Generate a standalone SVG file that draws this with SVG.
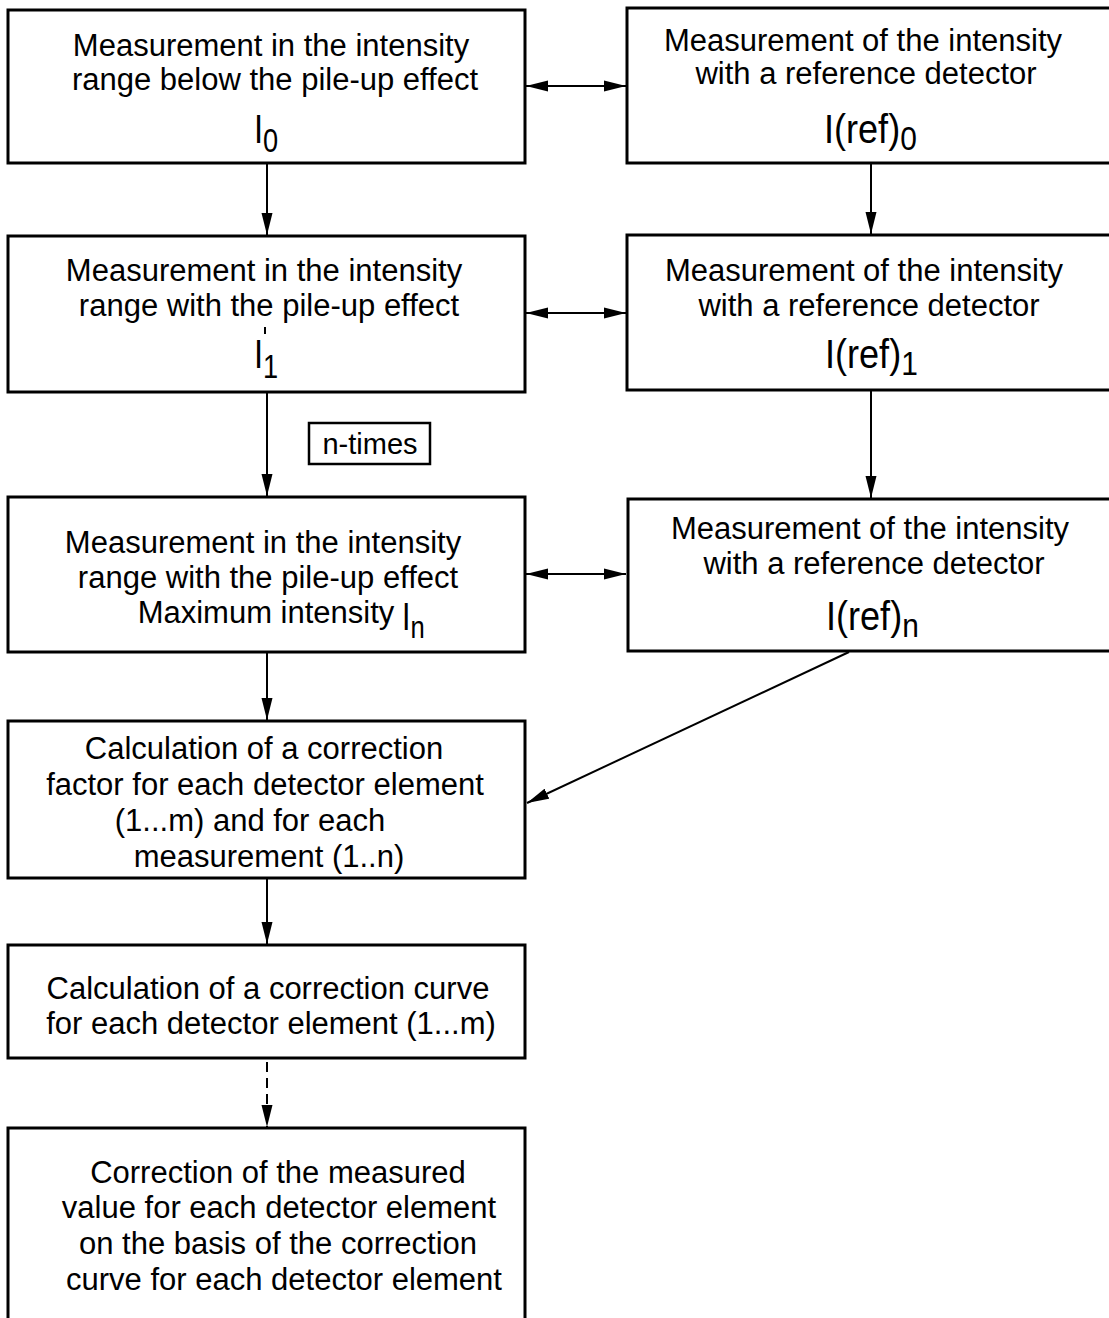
<svg xmlns="http://www.w3.org/2000/svg" width="1109" height="1318" viewBox="0 0 1109 1318">
<defs>
<style>
.box{fill:#fff;stroke:#000;stroke-width:3}
.t{font-family:"Liberation Sans",Arial,sans-serif;font-size:31px;fill:#000;text-anchor:middle}
.sym{font-family:"Liberation Sans",Arial,sans-serif;font-size:41px;fill:#000}
.sub{font-size:34px}
.c{stroke:#000;stroke-width:2;fill:none}
</style>
<marker id="ah" markerUnits="userSpaceOnUse" markerWidth="24" markerHeight="12" refX="22" refY="6" orient="auto-start-reverse">
<path d="M0,0.5 L22,6 L0,11.5 z" fill="#000"/>
</marker>
</defs>
<rect width="1109" height="1318" fill="#fff"/>

<g id="connectors">
<line class="c" x1="267" y1="164" x2="267" y2="235" marker-end="url(#ah)"/>
<line class="c" x1="871" y1="164" x2="871" y2="234" marker-end="url(#ah)"/>
<line class="c" x1="267" y1="393" x2="267" y2="496" marker-end="url(#ah)"/>
<line class="c" x1="871" y1="391" x2="871" y2="498" marker-end="url(#ah)"/>
<line class="c" x1="267" y1="653" x2="267" y2="720" marker-end="url(#ah)"/>
<line class="c" x1="849" y1="652" x2="527" y2="803" marker-end="url(#ah)"/>
<line class="c" x1="267" y1="879" x2="267" y2="944" marker-end="url(#ah)"/>
<line class="c" x1="267" y1="1062" x2="267" y2="1127" stroke-dasharray="10,6" marker-end="url(#ah)"/>
<line class="c" x1="526" y1="86" x2="626" y2="86" marker-start="url(#ah)" marker-end="url(#ah)"/>
<line class="c" x1="526" y1="313" x2="626" y2="313" marker-start="url(#ah)" marker-end="url(#ah)"/>
<line class="c" x1="526" y1="574" x2="626" y2="574" marker-start="url(#ah)" marker-end="url(#ah)"/>
</g>

<g id="nodeA">
<rect class="box" x="8" y="10" width="517" height="153"/>
<text class="t" x="271" y="56">Measurement in the intensity</text>
<text class="t" x="275" y="90">range below the pile-up effect</text>
<text class="sym" transform="translate(254,143) scale(0.8,1)">I<tspan class="sub" dy="9">0</tspan></text>
</g>

<g id="nodeB">
<rect class="box" x="627" y="8" width="500" height="155"/>
<text class="t" x="863" y="51">Measurement of the intensity</text>
<text class="t" x="866" y="84">with a reference detector</text>
<text class="sym" transform="translate(824,143) scale(0.88,1)">I(ref)<tspan class="sub" dy="7">0</tspan></text>
</g>

<g id="nodeC">
<rect class="box" x="8" y="236" width="517" height="156"/>
<text class="t" x="264" y="281">Measurement in the intensity</text>
<text class="t" x="269" y="316">range with the pile-up effect</text>
<line x1="265" y1="327" x2="265" y2="334" stroke="#000" stroke-width="2"/>
<text class="sym" transform="translate(254,368) scale(0.8,1)">I<tspan class="sub" dy="10">1</tspan></text>
</g>

<g id="nodeD">
<rect class="box" x="627" y="235" width="500" height="155"/>
<text class="t" x="864" y="281">Measurement of the intensity</text>
<text class="t" x="869" y="316">with a reference detector</text>
<text class="sym" transform="translate(825,368) scale(0.88,1)">I(ref)<tspan class="sub" dy="7">1</tspan></text>
</g>

<g id="nodeN">
<rect x="309" y="423" width="121" height="41" fill="#fff" stroke="#000" stroke-width="2.5"/>
<text class="t" x="370" y="454" style="font-size:29px">n-times</text>
</g>

<g id="nodeE">
<rect class="box" x="8" y="497" width="517" height="155"/>
<text class="t" x="263" y="553">Measurement in the intensity</text>
<text class="t" x="268" y="588">range with the pile-up effect</text>
<text class="t" x="266" y="623">Maximum intensity</text>
<text class="sym" transform="translate(402,630) scale(0.8,1)" style="font-size:38px">I<tspan class="sub" dy="8" style="font-size:32px">n</tspan></text>
</g>

<g id="nodeF">
<rect class="box" x="628" y="499" width="500" height="152"/>
<text class="t" x="870" y="539">Measurement of the intensity</text>
<text class="t" x="874" y="574">with a reference detector</text>
<text class="sym" transform="translate(826,630) scale(0.88,1)">I(ref)<tspan class="sub" dy="7">n</tspan></text>
</g>

<g id="nodeG">
<rect class="box" x="8" y="721" width="517" height="157"/>
<text class="t" x="264" y="759">Calculation of a correction</text>
<text class="t" x="265" y="795">factor for each detector element</text>
<text class="t" x="250" y="831">(1...m) and for each</text>
<text class="t" x="269" y="867">measurement (1..n)</text>
</g>

<g id="nodeH">
<rect class="box" x="8" y="945" width="517" height="113"/>
<text class="t" x="268" y="999">Calculation of a correction curve</text>
<text class="t" x="271" y="1034">for each detector element (1...m)</text>
</g>

<g id="nodeI">
<rect class="box" x="8" y="1128" width="517" height="220"/>
<text class="t" x="278" y="1183">Correction of the measured</text>
<text class="t" x="279" y="1218">value for each detector element</text>
<text class="t" x="278" y="1254">on the basis of the correction</text>
<text class="t" x="284" y="1290">curve for each detector element</text>
</g>
</svg>
